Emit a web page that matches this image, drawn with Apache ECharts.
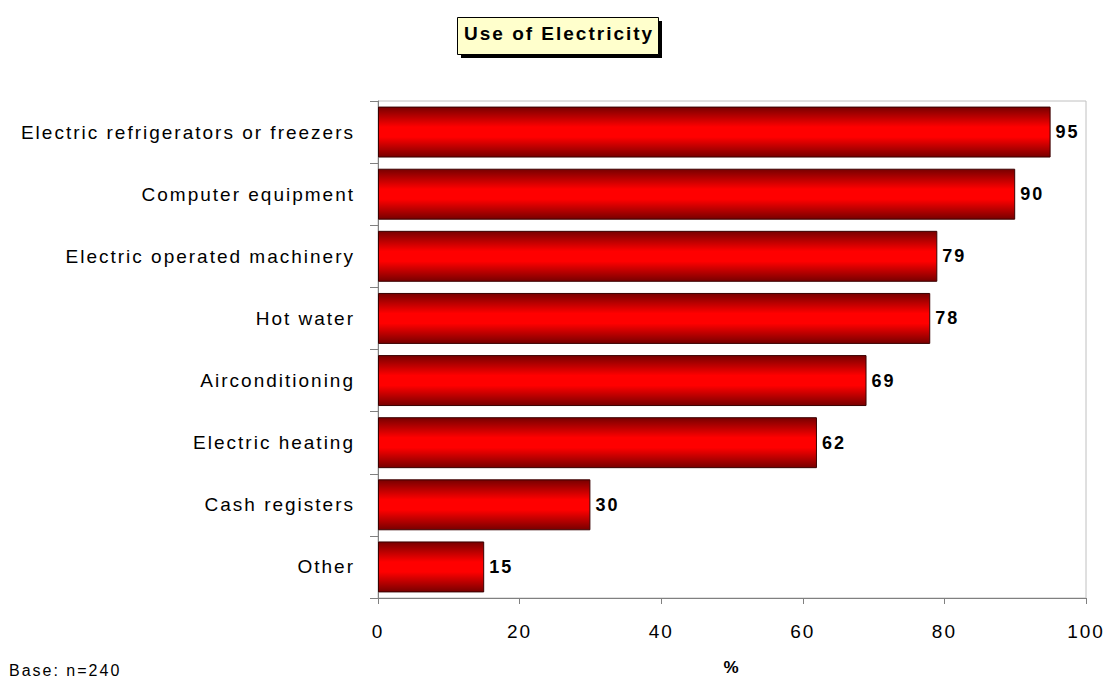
<!DOCTYPE html>
<html>
<head>
<meta charset="utf-8">
<script src="https://cdn.jsdelivr.net/npm/echarts@6/dist/echarts.min.js"></script>
<style>
  html, body { margin: 0; padding: 0; background: #fff; }
  #chart { width: 1109px; height: 681px; }
  /* the source chart has loose character spacing */
  #chart text { letter-spacing: 2px; }
</style>
</head>
<body>
<div id="chart"></div>
<script>
// categories top to bottom
var categories = [
  'Electric refrigerators or freezers',
  'Computer equipment',
  'Electric operated machinery',
  'Hot water',
  'Airconditioning',
  'Electric heating',
  'Cash registers',
  'Other'
];
var values = [95, 90, 79, 78, 69, 62, 30, 15];
var xTicks = { min: 0, max: 100, interval: 20 };
var titleText = 'Use of Electricity';
var axisName = '%';
var baseNote = 'Base: n=240';

var fontFamily = 'Liberation Sans, Arial, sans-serif';

var myChart = echarts.init(document.getElementById('chart'), null, { renderer: 'svg' });

var barGradient = new echarts.graphic.LinearGradient(0, 0, 0, 1, [
  { offset: 0, color: '#780000' },
  { offset: 0.4, color: '#ff0000' },
  { offset: 0.6, color: '#ff0000' },
  { offset: 1, color: '#780000' }
]);

var option = {
  backgroundColor: '#ffffff',
  animation: false,
  textStyle: { fontFamily: fontFamily },
  grid: {
    left: 378, right: 23, top: 101, bottom: 83,
    outerBoundsMode: 'none',
    containLabel: false,
    show: true, borderColor: '#c0c0c0', borderWidth: 1, backgroundColor: 'transparent'
  },
  graphic: [
    {   // title box shadow
      type: 'rect', left: 461, top: 21, silent: true,
      shape: { width: 201, height: 37 },
      style: { fill: '#000' }
    },
    {
      type: 'rect', left: 457, top: 17, silent: true,
      shape: { width: 201, height: 37 },
      style: { fill: '#ffffcc', stroke: '#000', lineWidth: 1 }
    },
    {
      type: 'text', left: 464, top: 24, silent: true,
      style: { text: titleText, fill: '#000', font: 'bold 19px ' + fontFamily }
    },
    {
      type: 'text', left: 9, top: 662, silent: true,
      style: { text: baseNote, fill: '#000', font: '16px ' + fontFamily }
    }
  ],
  xAxis: {
    type: 'value',
    min: xTicks.min, max: xTicks.max, interval: xTicks.interval,
    name: axisName,
    nameLocation: 'middle',
    nameGap: 61,
    nameTextStyle: { fontWeight: 'bold', fontSize: 17, color: '#000' },
    axisLine: { show: true, lineStyle: { color: '#808080', width: 1 } },
    axisTick: { show: true, length: 6, lineStyle: { color: '#808080' } },
    axisLabel: { color: '#000', fontSize: 19, margin: 24 },
    splitLine: { show: false }
  },
  yAxis: {
    type: 'category',
    inverse: true,
    data: categories,
    axisLine: { show: true, lineStyle: { color: '#808080', width: 1 } },
    axisTick: { show: true, length: 8, alignWithLabel: false, lineStyle: { color: '#808080' } },
    axisLabel: { color: '#000', fontSize: 19, margin: 23 },
    splitLine: { show: false }
  },
  series: [{
    type: 'bar',
    data: values,
    barCategoryGap: '18%',
    itemStyle: { color: barGradient, borderColor: '#3a0000', borderWidth: 1 },
    label: {
      show: true,
      position: 'right',
      distance: 5,
      color: '#000',
      fontWeight: 'bold',
      fontSize: 18
    }
  }]
};

myChart.setOption(option);
</script>
</body>
</html>
